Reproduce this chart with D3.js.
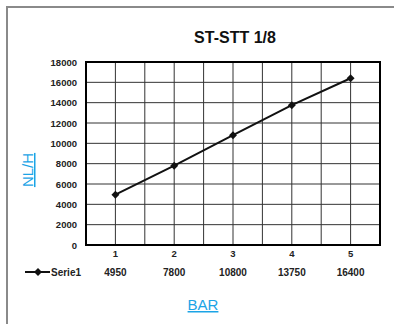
<!DOCTYPE html>
<html>
<head>
<meta charset="utf-8">
<script src="https://cdn.jsdelivr.net/npm/d3@7"></script>
<style>
  body { margin: 0; background: #fff; }
  text { font-family: "Liberation Sans", Arial, sans-serif; }
</style>
</head>
<body>
<div class="svg-container"></div>
<script>
// data
const categories = ["1", "2", "3", "4", "5"];
const serie1 = [4950, 7800, 10800, 13750, 16400];
const yTicks = [0, 2000, 4000, 6000, 8000, 10000, 12000, 14000, 16000, 18000];
const seriesName = "Serie1";
const title = "ST-STT 1/8";

const width = 394, height = 324;
const plot = { left: 86, right: 380, top: 62, bottom: 245 };

const svg = d3.select(".svg-container")
  .append("svg")
  .attr("width", width)
  .attr("height", height);

// outer frame
svg.append("path")
  .attr("d", "M7," + height + " V7 H" + width)
  .attr("fill", "none")
  .attr("stroke", "#8a8a8a")
  .attr("stroke-width", 2);

// scales
const xScale = d3.scaleBand()
  .domain(categories)
  .range([plot.left, plot.right]);

const yScale = d3.scaleLinear()
  .domain([0, 18000])
  .range([plot.bottom, plot.top]);

// vertical grid (band edges + centers)
const xGrid = [];
categories.forEach(c => {
  xGrid.push(xScale(c));
  xGrid.push(xScale(c) + xScale.bandwidth() / 2);
});
xGrid.push(plot.right);

svg.selectAll(".vgrid")
  .data(xGrid)
  .enter()
  .append("line")
  .attr("class", "vgrid")
  .attr("x1", d => d).attr("x2", d => d)
  .attr("y1", plot.top).attr("y2", plot.bottom)
  .attr("stroke", "#333")
  .attr("stroke-width", 1);

// horizontal grid
svg.selectAll(".hgrid")
  .data(yTicks)
  .enter()
  .append("line")
  .attr("class", "hgrid")
  .attr("x1", plot.left).attr("x2", plot.right)
  .attr("y1", d => yScale(d)).attr("y2", d => yScale(d))
  .attr("stroke", "#333")
  .attr("stroke-width", 1);

// plot border
svg.append("rect")
  .attr("x", plot.left)
  .attr("y", plot.top)
  .attr("width", plot.right - plot.left)
  .attr("height", plot.bottom - plot.top)
  .attr("fill", "none")
  .attr("stroke", "#000")
  .attr("stroke-width", 2);

// Y-AXIS labels
const yAxis = d3.axisLeft(yScale).tickValues(yTicks).tickFormat(d3.format("d")).tickSize(0).tickPadding(0);
const yG = svg.append("g")
  .attr("transform", "translate(" + (plot.left - 9) + ",0)")
  .call(yAxis);
yG.select(".domain").remove();
yG.selectAll("text")
  .attr("font-family", "Liberation Sans, Arial, sans-serif")
  .attr("font-size", 9.5)
  .attr("font-weight", "bold")
  .attr("fill", "#222");

// X-AXIS labels
const xAxis = d3.axisBottom(xScale).tickSize(0).tickPadding(0);
const xG = svg.append("g")
  .attr("transform", "translate(0," + (plot.bottom + 5) + ")")
  .call(xAxis);
xG.select(".domain").remove();
xG.selectAll("text")
  .attr("font-family", "Liberation Sans, Arial, sans-serif")
  .attr("font-size", 9.5)
  .attr("font-weight", "bold")
  .attr("fill", "#222");

// line
const line = d3.line()
  .x((d, i) => xScale(categories[i]) + xScale.bandwidth() / 2)
  .y(d => yScale(d));

svg.append("path")
  .datum(serie1)
  .attr("d", line)
  .attr("fill", "none")
  .attr("stroke", "#111")
  .attr("stroke-width", 2);

const diamond = d3.symbol().type(d3.symbolDiamond2).size(40);
svg.selectAll(".dot")
  .data(serie1)
  .enter()
  .append("path")
  .attr("class", "dot")
  .attr("d", diamond)
  .attr("transform", (d, i) => "translate(" + (xScale(categories[i]) + xScale.bandwidth() / 2) + "," + yScale(d) + ")")
  .attr("fill", "#111");

// data table row
const rowY = 272;
svg.selectAll(".val")
  .data(serie1)
  .enter()
  .append("text")
  .attr("class", "val")
  .attr("x", (d, i) => xScale(categories[i]) + xScale.bandwidth() / 2)
  .attr("y", rowY)
  .attr("dy", "0.35em")
  .attr("text-anchor", "middle")
  .attr("font-size", 10)
  .attr("font-weight", "bold")
  .attr("fill", "#222")
  .text(d => d);

// legend key
svg.append("line")
  .attr("x1", 25).attr("x2", 50)
  .attr("y1", rowY).attr("y2", rowY)
  .attr("stroke", "#111")
  .attr("stroke-width", 2);
svg.append("path")
  .attr("d", diamond)
  .attr("transform", "translate(38," + rowY + ")")
  .attr("fill", "#111");
svg.append("text")
  .attr("x", 51)
  .attr("y", rowY)
  .attr("dy", "0.35em")
  .attr("font-size", 10)
  .attr("font-weight", "bold")
  .attr("fill", "#222")
  .text(seriesName);

// title
svg.append("text")
  .attr("x", 235)
  .attr("y", 43)
  .attr("text-anchor", "middle")
  .attr("font-size", 16)
  .attr("font-weight", "bold")
  .attr("fill", "#111")
  .text(title);

// axis titles
svg.append("text")
  .attr("x", 203)
  .attr("y", 310)
  .attr("text-anchor", "middle")
  .attr("font-size", 15)
  .attr("fill", "#1ba4e6")
  .attr("text-decoration", "underline")
  .text("BAR");

svg.append("text")
  .attr("transform", "translate(33,170) rotate(-90)")
  .attr("text-anchor", "middle")
  .attr("font-size", 15)
  .attr("fill", "#1ba4e6")
  .attr("text-decoration", "underline")
  .text("NL/H");
</script>
</body>
</html>
